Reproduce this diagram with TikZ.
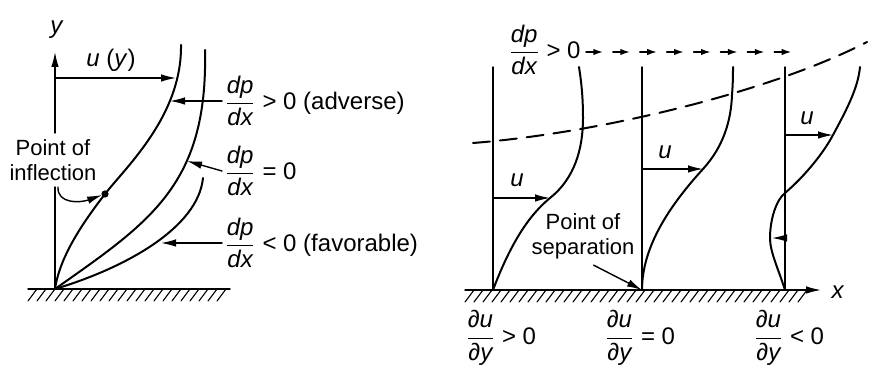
\documentclass[tikz,border=0pt]{standalone}
\usepackage{fontspec}
\setmainfont{Liberation Sans}
\usetikzlibrary{arrows.meta,calc}
\newcommand{\fracsf}[2]{$\displaystyle\frac{\textit{#1}}{\textit{#2}}$}

\begin{document}
\begin{tikzpicture}[x=0.5pt,y=-0.5pt,line cap=round,font=\fontsize{12}{13}\selectfont,
  arr/.style={-{Latex[length=7.5pt,width=3.8pt]},line width=0.7pt},
  tinyarr/.style={-{Latex[length=4.8pt,width=3.2pt]},line width=0.7pt},
  profile/.style={line width=1pt},
  axisline/.style={line width=0.7pt},
  hatchline/.style={line width=0.55pt},
  lbl/.style={inner sep=1pt,anchor=west},
  small/.style={font=\fontsize{11}{12.5}\selectfont,align=center,inner xsep=1pt,inner ysep=3pt}]
\useasboundingbox (0,0) rectangle (883,378);

% left: profiles for the three pressure gradients
\coordinate (o1) at (55,289);
\coordinate (ytip) at (55,52);
\coordinate (infl) at (105,194);
\coordinate (inflfrom) at (58,187);
\coordinate (uytip) at (176,78);
\coordinate (c1arr) at (170,103);
\coordinate (c2arr) at (187,161);
\coordinate (c3arr) at (161,239);
\node (lbly) at (57,30) {\textit{y}};
\node (lbluy) at (111,60) {\textit{u} (\textit{y})};
\node[small] (lblinfl) at (53,160) {Point of\\inflection};
\node[lbl] (lbladv) at (222,101) {\fracsf{dp}{dx} > 0 (adverse)};
\node[lbl] (lblzero) at (222,171) {\fracsf{dp}{dx} = 0};
\node[lbl] (lblfav) at (222,243) {\fracsf{dp}{dx} < 0 (favorable)};
\draw[axisline] (28,289) -- (230,289);
\foreach \x in {37,46,...,229} \draw[hatchline] (\x,289) -- ++(-9,12);
\draw[axisline] (o1) -- (o1 |- lblinfl.south);
\draw[axisline,arr] (o1 |- lblinfl.north) -- (ytip);
\draw[arr] (o1 |- uytip) -- (uytip);
\draw[profile] (o1) .. controls (60,255) and (85,220) .. (infl) .. controls (127,166) and (182,115) .. (181,45);
\draw[profile] (o1) .. controls (150,222) and (208,185) .. (205,50);
\draw[profile] (o1) .. controls (125,268) and (198,228) .. (203,178);
\fill (infl) circle[radius=1.8pt];
\draw[arr,shorten >=1.5pt] (inflfrom) .. controls (57,204) and (80,203) .. (infl);
\draw[arr] (lbladv.west) -- (lbladv.west -| c1arr);
\draw[arr] (lblzero.west) -- (c2arr);
\draw[arr] (lblfav.west) -- (lblfav.west -| c3arr);

% right: growth towards separation
\coordinate (o2) at (493,290);
\coordinate (o3) at (642,290);
\coordinate (o4) at (785,290);
\coordinate (wallR) at (465,290);
\coordinate (xtip) at (821,290);
\coordinate (p1u) at (550,198);
\coordinate (p2u) at (703,169);
\coordinate (p3u) at (833,135);
\coordinate (p3back) at (772,238);
\node (lblx) at (838,292) {\textit{x}};
\node[lbl] (lbltop) at (506,50) {\fracsf{dp}{dx} > 0};
\node[small] (lblsep) at (583,236) {Point of\\separation};
\node (lblu1) at (517,180) {\textit{u}};
\node (lblu2) at (665,152) {\textit{u}};
\node (lblu3) at (807,118) {\textit{u}};
\node[lbl] (lblpos) at (463,338) {\fracsf{∂u}{∂y} > 0};
\node[lbl] (lblnil) at (602,338) {\fracsf{∂u}{∂y} = 0};
\node[lbl] (lblneg) at (751,338) {\fracsf{∂u}{∂y} < 0};
\draw[axisline,arr] (wallR) -- (xtip);
\foreach \x in {474,483,...,807} \draw[hatchline] (\x,290) -- ++(-9,12);
\foreach \xa in {493,642,785} \draw[axisline] (\xa,290) -- (\xa,67);
\foreach \k in {0,...,7} \draw[tinyarr] ($(lbltop.east)+(3+26.9*\k,2)$) -- ++(17,0);
\draw[profile] (o2) .. controls (510,245) and (528,216) .. (p1u) .. controls (574,179) and (583,150) .. (583,118) .. controls (583,95) and (581,80) .. (579,67);
\draw[profile] (o3) .. controls (642,245) and (672,203) .. (p2u) .. controls (724,146) and (731,120) .. (732,95) .. controls (733,82) and (733,74) .. (733,67);
\draw[profile] (o4) .. controls (778,268) and (770,252) .. (770,238) .. controls (770,220) and (776,200) .. (785,193) .. controls (806,175) and (824,152) .. (p3u) .. controls (847,109) and (858,88) .. (860,67);
\draw[profile,dash pattern=on 8.5pt off 5pt] (473,143) .. controls (600,133) and (770,92) .. (867,42);
\draw[arr] (o2 |- p1u) -- (p1u);
\draw[arr] (o3 |- p2u) -- (p2u);
\draw[arr] (o4 |- p3u) -- (p3u);
\draw[arr] (o4 |- p3back) -- (p3back);
\draw[arr] (lblsep.-70) -- (o3);
\end{tikzpicture}
\end{document}
